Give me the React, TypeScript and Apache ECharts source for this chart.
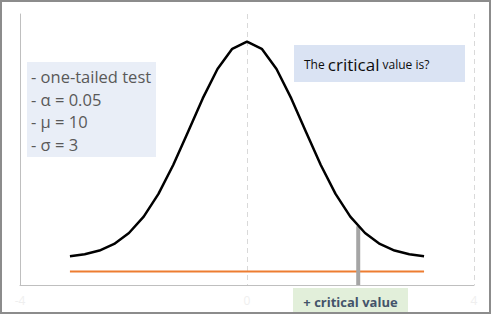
import React, { useEffect, useRef } from "react";
import * as echarts from "echarts";

const zValues = [
  -3.12, -2.86, -2.6, -2.34, -2.08, -1.82, -1.56, -1.3, -1.04, -0.78, -0.52, -0.26, 0,
  0.26, 0.52, 0.78, 1.04, 1.3, 1.56, 1.82, 2.08, 2.34, 2.6, 2.86, 3.12,
];
const densityValues = [
  0.0031, 0.0067, 0.0136, 0.0258, 0.0459, 0.0761, 0.1181, 0.1714, 0.2323, 0.2943, 0.3485, 0.3857, 0.3989,
  0.3857, 0.3485, 0.2943, 0.2323, 0.1714, 0.1181, 0.0761, 0.0459, 0.0258, 0.0136, 0.0067, 0.0031,
];
const baselineX = [-3.12, 3.12];
const baselineY = [-0.025, -0.025];
const criticalX = [1.96, 1.96];
const criticalY = [-0.05, 0.0584];
const xTicks = [-4, 0, 4];
const infoLines = ["- one-tailed test", "- α = 0.05", "- μ = 10", "- σ = 3"];
const questionParts = ["The ", "critical", " value is?"];
const answerLabel = "+ critical value";

const FONT = "'Open Sans', 'Noto Sans', sans-serif";

export default function App() {
  const ref = useRef<HTMLDivElement>(null);
  useEffect(() => {
    if (!ref.current) return;
    const chart = echarts.init(ref.current, undefined, { renderer: "svg" });
    chart.setOption({
      animation: false,
      backgroundColor: "#ffffff",
      grid: { left: 20, right: 18, top: 14, bottom: 31 },
      xAxis: {
        type: "value",
        min: xTicks[0],
        max: xTicks[xTicks.length - 1],
        interval: 4,
        axisLine: { onZero: false, lineStyle: { color: "#bfbfbf", width: 1 } },
        axisTick: { show: false },
        axisLabel: { color: "#efefef", fontSize: 12, fontFamily: FONT, margin: 9 },
        splitLine: { show: true, lineStyle: { color: "#d9d9d9", type: [5, 4], width: 1 } },
      },
      yAxis: {
        type: "value",
        min: -0.05,
        max: 0.45,
        interval: 0.05,
        axisLine: { show: true, onZero: false, lineStyle: { color: "#bfbfbf", width: 1 } },
        axisTick: { show: false },
        axisLabel: { show: false },
        splitLine: { show: false },
      },
      series: [
        {
          type: "line",
          data: baselineX.map((x, i) => [x, baselineY[i]]),
          symbol: "none",
          lineStyle: { color: "#ed7d31", width: 2 },
          z: 2,
        },
        {
          type: "line",
          data: criticalX.map((x, i) => [x, criticalY[i]]),
          symbol: "none",
          lineStyle: { color: "#a5a5a5", width: 4 },
          z: 3,
        },
        {
          type: "line",
          data: zValues.map((x, i) => [x, densityValues[i]]),
          symbol: "none",
          lineStyle: { color: "#000000", width: 2.5, join: "round" },
          z: 4,
        },
      ],
      graphic: [
        {
          type: "rect",
          shape: { x: 1, y: 1, width: 489, height: 312 },
          style: { fill: "none", stroke: "#8c8c8c", lineWidth: 2 },
          z: 100,
        },
        {
          type: "rect",
          shape: { x: 27, y: 62, width: 129, height: 95 },
          style: { fill: "#e9eef7" },
          z: 10,
        },
        ...infoLines.map((t, i) => ({
          type: "text",
          x: 31,
          y: 76.5 + i * 22.5,
          style: {
            text: t,
            fill: "#595959",
            fontSize: 16.5,
            fontFamily: FONT,
            verticalAlign: "middle",
          },
          z: 11,
        })),
        {
          type: "rect",
          shape: { x: 294, y: 45, width: 171, height: 37 },
          style: { fill: "#dae3f3" },
          z: 10,
        },
        {
          type: "text",
          x: 304,
          y: 64,
          style: {
            rich: {
              s: { fontSize: 12, fontFamily: FONT, fill: "#0d0d0d" },
              b: { fontSize: 17, fontFamily: FONT, fill: "#0d0d0d" },
            },
            text: `{s|${questionParts[0]}}{b|${questionParts[1]}}{s|${questionParts[2]}}`,
            verticalAlign: "middle",
          },
          z: 11,
        },
        {
          type: "rect",
          shape: { x: 293, y: 288, width: 115, height: 25 },
          style: { fill: "#e2efda" },
          z: 10,
        },
        {
          type: "text",
          x: 350.5,
          y: 302,
          style: {
            text: answerLabel,
            fill: "#44546a",
            fontSize: 13,
            fontWeight: "bold",
            fontFamily: FONT,
            align: "center",
            verticalAlign: "middle",
          },
          z: 11,
        },
      ],
    });
    return () => chart.dispose();
  }, []);
  return (
    <div
      ref={ref}
      style={{ position: "fixed", left: 0, top: 0, width: 492, height: 316 }}
    />
  );
}
